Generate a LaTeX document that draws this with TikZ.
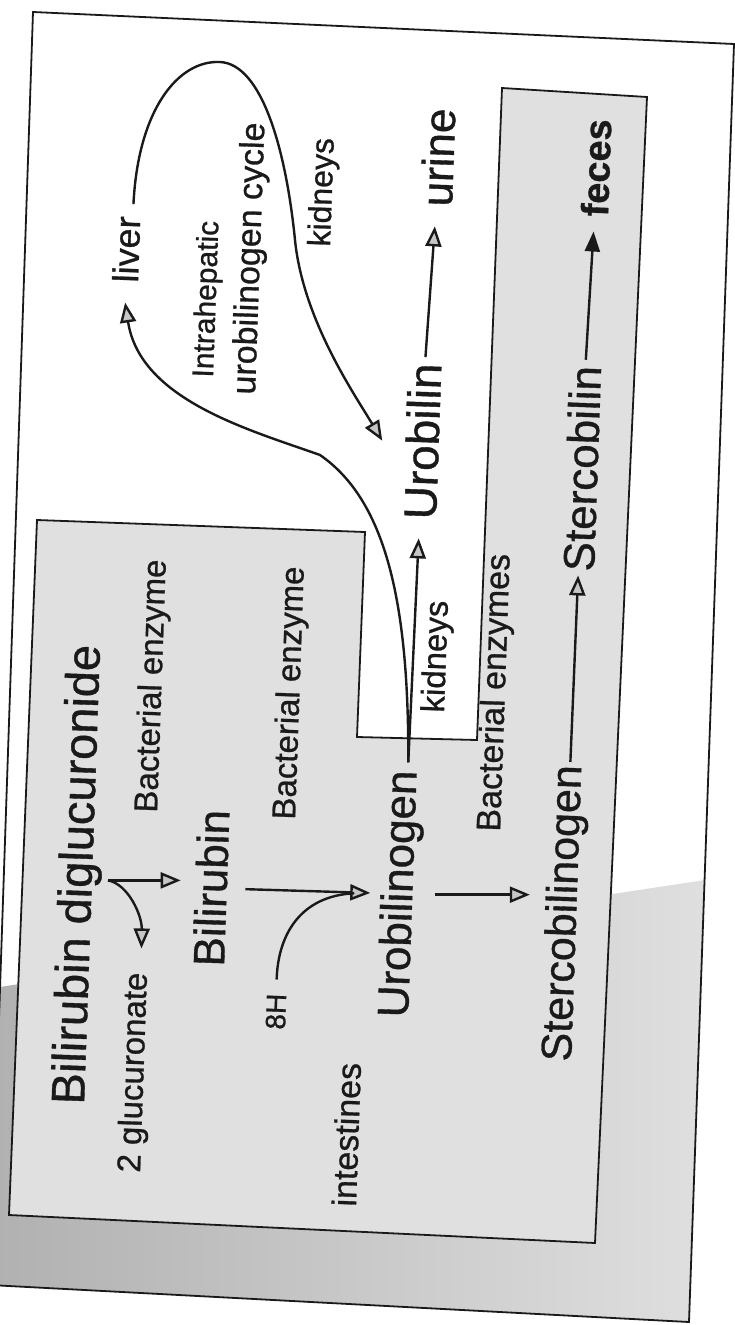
\documentclass[tikz,border=0pt]{standalone}
\usepackage{fontspec}
\setmainfont{Liberation Sans}[FakeBold=0.8]
\usetikzlibrary{arrows.meta}
\definecolor{ink}{HTML}{1A1A1A}
\definecolor{boxgray}{HTML}{E0E0E0}
\begin{document}
\begin{tikzpicture}[x=1pt,y=-1pt,
  lbl/.style={rotate=88,anchor=base west,inner sep=0pt,text=ink},
  fs/.style={font=\fontsize{#1}{#1}\selectfont},
  arr/.style={draw=ink,line width=2.4pt,-{Triangle[length=20pt,width=16pt,fill=gray!45]}},
  solidarr/.style={draw=ink,line width=2.4pt,-{Triangle[length=20pt,width=15pt]}},
  plainline/.style={draw=ink,line width=2.4pt},
  framel/.style={draw=ink,line width=1.8pt}]
\path[use as bounding box] (0,0) rectangle (735,1325);
\clip (0,0) rectangle (735,1325);
\fill[white] (0,0) rectangle (735,1325);
% scan shadow
\shade[left color=gray!62,right color=gray!25] (-20,990) -- (705,880) -- (689,1322) -- (-10,1285) -- cycle;
% intestine region
\path[framel,fill=boxgray] (37,520) -- (365,532) -- (357,737) -- (477,740) -- (502,88) -- (647,97) -- (595,1243) -- (9,1215) -- cycle;
% outer frame
\draw[framel] (33,12) -- (734,44) -- (689,1322) -- (-10,1285) -- cycle;

% labels
\node[lbl,fs=47] (bdg) at (84,1105) {Bilirubin diglucuronide};
\node[lbl,fs=33] (glu) at (140,1173) {2 glucuronate};
\node[lbl,fs=33] (bae1) at (157,813) {Bacterial enzyme};
\node[lbl,fs=44] (bili) at (224,967) {Bilirubin};
\node[lbl,fs=28] (h8) at (285,1030) {8H};
\node[lbl,fs=33] (bae2) at (295,820) {Bacterial enzyme};
\node[lbl,fs=34] (intest) at (356,1207) {intestines};
\node[lbl,fs=44] (urogen) at (408,1018) {Urobilinogen};
\node[lbl,fs=33] (kidL) at (444,713) {kidneys};
\node[lbl,fs=34] (bae3) at (500,832) {Bacterial enzymes};
\node[lbl,fs=43] (stgen) at (571,1062) {Stercobilinogen};
\node[lbl,fs=46] (urobilin) at (436,520) {Urobilin};
\node[lbl,fs=44] (sterc) at (594,572) {Stercobilin};
\node[lbl,fs=36] (liver) at (138,283) {liver};
\node[lbl,fs=30] (intra) at (213,378) {Intrahepatic};
\node[lbl,fs=34] (ucyc) at (255,395) {urobilinogen cycle};
\node[lbl,fs=32] (kidU) at (330,247) {kidneys};
\node[lbl,fs=44] (urine) at (452,207) {urine};
\node[lbl,font=\bfseries\fontsize{38}{38}\selectfont] (feces) at (608,217) {feces};

% connectors
\coordinate (split) at ([xshift=6pt,yshift=-5pt]bdg.south);
\draw[arr,shorten >=14pt] (split) -- (split -| bili.north);
\draw[arr] (split) .. controls (128,884) and (142,915) .. ([xshift=3pt,yshift=24pt]glu.east);
\draw[arr,shorten <=18pt,shorten >=10pt] (bili.south) -- (urogen.north);
\draw[plainline] ([yshift=14pt]h8.east) .. controls (278,935) and (300,896) .. ([xshift=-26pt]urogen.north);
\draw[arr,shorten <=13pt,shorten >=15pt] (urogen.south) -- (urogen.south -| stgen.north);
\draw[arr,shorten <=3pt,shorten >=4pt] (stgen.east) -- (sterc.west);
\draw[solidarr,shorten <=6pt,shorten >=15pt] (sterc.east) -- (feces.west);
\draw[arr,shorten <=6pt,shorten >=20pt] (urobilin.east) -- (urine.west);
\coordinate (fork) at ([xshift=3pt,yshift=8pt]urogen.east);
\draw[arr,shorten >=19pt] (fork) -- (urobilin.west);
\draw[arr] (fork) .. controls (409,600) and (385,500) .. (320,455) .. controls (250,430) and (140,400) .. ([yshift=-20pt]liver.west);
\draw[arr] ([xshift=6pt,yshift=12pt]liver.east) .. controls (138,110) and (178,60) .. (220,62) .. controls (262,64) and (286,150) .. (295,240) .. controls (303,320) and (355,395) .. ([xshift=-23pt]urobilin.north);
\end{tikzpicture}
\end{document}
